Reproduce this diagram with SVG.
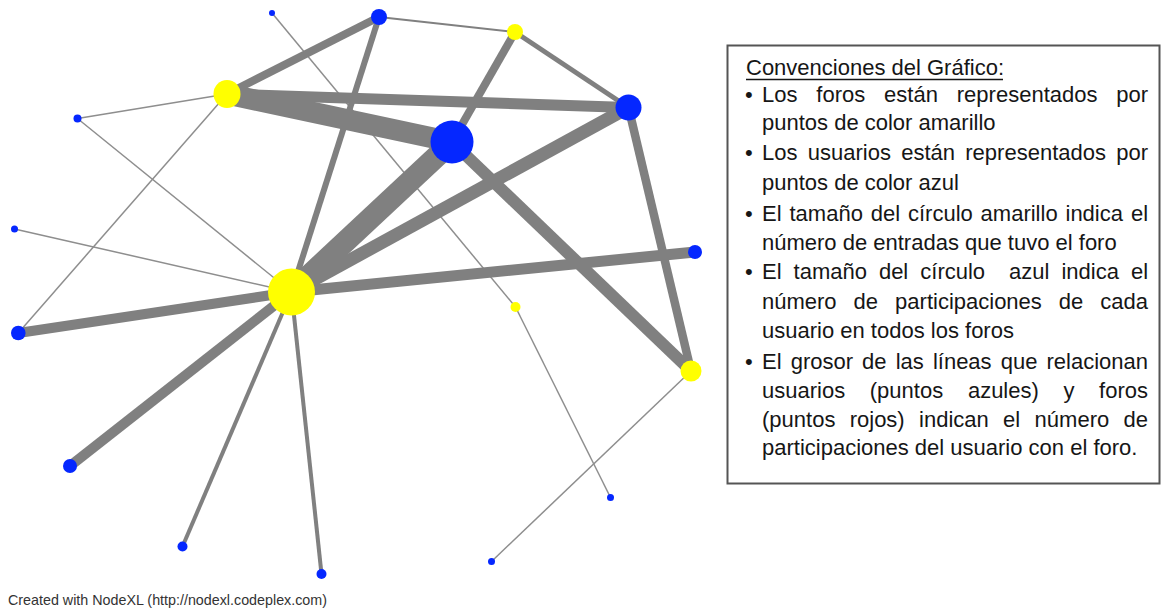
<svg xmlns="http://www.w3.org/2000/svg" width="1162" height="611" viewBox="0 0 1162 611">
<style>
.e{stroke:#808080;fill:none;stroke-linecap:butt}
.t{stroke:#8e8e8e;stroke-width:1.5;fill:none}
.f{fill:#ffff00}
.u{fill:#0527ff}
.tx{font-family:"Liberation Sans",Arial,sans-serif;font-size:22px;fill:#161616}
.ft{font-family:"Liberation Sans",Arial,sans-serif;font-size:15px;fill:#333}
</style>
<rect width="1162" height="611" fill="#fff"/>
<g id="connectors">
<line class="t" x1="272" y1="13" x2="515.5" y2="307"/>
<line class="e" stroke-width="2" x1="379" y1="17" x2="515" y2="32"/>
<line class="e" stroke-width="8" x1="379" y1="17" x2="227" y2="94"/>
<line class="e" stroke-width="6" x1="379" y1="17" x2="291.5" y2="292"/>
<line class="e" stroke-width="8" x1="515" y1="32" x2="452" y2="142"/>
<line class="e" stroke-width="5" x1="515" y1="32" x2="628.5" y2="107.5"/>
<line class="e" stroke-width="11" x1="227" y1="94" x2="628.5" y2="107.5"/>
<line class="e" stroke-width="21" x1="227" y1="94" x2="452" y2="142"/>
<line class="t" x1="227" y1="94" x2="77.5" y2="118.5"/>
<line class="t" x1="227" y1="94" x2="18.3" y2="333"/>
<line class="t" x1="77.5" y1="118.5" x2="291.5" y2="292"/>
<line class="t" x1="14.5" y1="229" x2="291.5" y2="292"/>
<line class="e" stroke-width="22" x1="452" y1="142" x2="291.5" y2="292"/>
<line class="e" stroke-width="13" x1="628.5" y1="107.5" x2="291.5" y2="292"/>
<line class="e" stroke-width="8.5" x1="628.5" y1="107.5" x2="691" y2="371"/>
<line class="e" stroke-width="12" x1="452" y1="142" x2="691" y2="371"/>
<line class="e" stroke-width="11" x1="291.5" y1="292" x2="695" y2="252"/>
<line class="e" stroke-width="10" x1="291.5" y1="292" x2="18.3" y2="333"/>
<line class="e" stroke-width="10" x1="291.5" y1="292" x2="70" y2="466"/>
<line class="e" stroke-width="4" x1="291.5" y1="292" x2="182.5" y2="546.5"/>
<line class="e" stroke-width="4" x1="291.5" y1="292" x2="321.5" y2="574"/>
<line class="t" x1="515.5" y1="307" x2="610.5" y2="497.5"/>
<line class="t" x1="691" y1="371" x2="491.5" y2="561.5"/>
</g>
<g id="u1"><circle class="u" cx="272" cy="13" r="3"/></g>
<g id="u2"><circle class="u" cx="379" cy="17" r="8"/></g>
<g id="f1"><circle class="f" cx="515" cy="32" r="8"/></g>
<g id="f2"><ellipse class="f" cx="227" cy="94" rx="13.5" ry="14"/></g>
<g id="u3"><circle class="u" cx="77.5" cy="118.5" r="4"/></g>
<g id="u4"><circle class="u" cx="452" cy="142" r="21.5"/></g>
<g id="u5"><circle class="u" cx="628.5" cy="107.5" r="13"/></g>
<g id="u6"><circle class="u" cx="695" cy="252" r="7"/></g>
<g id="u7"><circle class="u" cx="14.5" cy="229" r="3.5"/></g>
<g id="f3"><circle class="f" cx="291.5" cy="292" r="23.5"/></g>
<g id="f4"><circle class="f" cx="515.5" cy="307" r="5"/></g>
<g id="u8"><circle class="u" cx="18.3" cy="333" r="7.3"/></g>
<g id="f5"><circle class="f" cx="691" cy="371" r="10.5"/></g>
<g id="u9"><circle class="u" cx="70" cy="466" r="7"/></g>
<g id="u10"><circle class="u" cx="182.5" cy="546.5" r="5"/></g>
<g id="u11"><circle class="u" cx="321.5" cy="574" r="5"/></g>
<g id="u12"><circle class="u" cx="491.5" cy="561.5" r="3.5"/></g>
<g id="u13"><circle class="u" cx="610.5" cy="497.5" r="3.5"/></g>
<g id="legend">
<rect x="727.5" y="45.5" width="432" height="438" fill="#fff" stroke="#555" stroke-width="2"/>
<text class="tx" x="746" y="75" font-size="21">Convenciones del Gráfico:</text>
<line x1="746" y1="79.5" x2="1003" y2="79.5" stroke="#161616" stroke-width="1.5"/>
<g class="tx">
<text x="745" y="102">•</text>
<text y="102"><tspan x="762">Los</tspan><tspan x="816.3">foros</tspan><tspan x="884.1">están</tspan><tspan x="956.8">representados</tspan><tspan x="1116.3">por</tspan></text>
<text x="762" y="130">puntos de color amarillo</text>
<text x="745" y="160">•</text>
<text y="160"><tspan x="762">Los</tspan><tspan x="807.8">usuarios</tspan><tspan x="901.2">están</tspan><tspan x="965.3">representados</tspan><tspan x="1116.2">por</tspan></text>
<text x="762" y="190">puntos de color azul</text>
<text x="745" y="221">•</text>
<text y="221"><tspan x="762">El</tspan><tspan x="789.5">tamaño</tspan><tspan x="870.7">del</tspan><tspan x="908">círculo</tspan><tspan x="980.6">amarillo</tspan><tspan x="1065.5">indica</tspan><tspan x="1130.9">el</tspan></text>
<text x="762" y="250">número de entradas que tuvo el foro</text>
<text x="745" y="279">•</text>
<text y="279"><tspan x="762">El</tspan><tspan x="793.6">tamaño</tspan><tspan x="878.9">del</tspan><tspan x="920.3">círculo</tspan><tspan x="1009.1">azul</tspan><tspan x="1061.4">indica</tspan><tspan x="1130.9">el</tspan></text>
<text y="309"><tspan x="762">número</tspan><tspan x="853.6">de</tspan><tspan x="895.1">participaciones</tspan><tspan x="1058.8">de</tspan><tspan x="1100.3">cada</tspan></text>
<text x="762" y="338">usuario en todos los foros</text>
<text x="745" y="369">•</text>
<text y="369"><tspan x="762">El</tspan><tspan x="790.7">grosor</tspan><tspan x="862.1">de</tspan><tspan x="895.7">las</tspan><tspan x="932.9">líneas</tspan><tspan x="1000.7">que</tspan><tspan x="1046.5">relacionan</tspan></text>
<text y="398"><tspan x="762">usuarios</tspan><tspan x="869.8">(puntos</tspan><tspan x="967.9">azules)</tspan><tspan x="1063.4">y</tspan><tspan x="1099.1">foros</tspan></text>
<text y="427"><tspan x="762">(puntos</tspan><tspan x="849.7">rojos)</tspan><tspan x="919.1">indican</tspan><tspan x="1003.1">el</tspan><tspan x="1034.6">número</tspan><tspan x="1123.5">de</tspan></text>
<text x="762" y="455">participaciones del usuario con el foro.</text>
</g>
</g>
<text class="ft" x="8" y="605" textLength="319" lengthAdjust="spacingAndGlyphs">Created with NodeXL (http://nodexl.codeplex.com)</text>
</svg>
